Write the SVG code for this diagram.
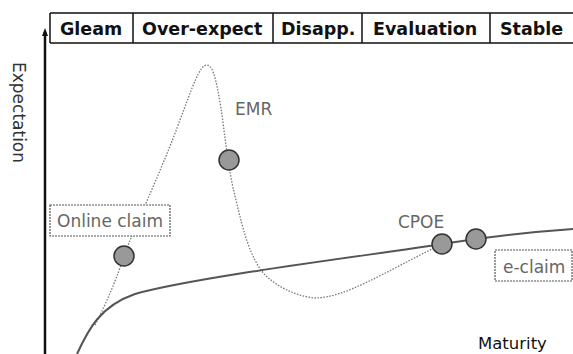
<svg xmlns="http://www.w3.org/2000/svg" width="573" height="354" viewBox="0 0 573 354">
<defs>
<marker id="arr" markerWidth="8" markerHeight="8" refX="4" refY="4" orient="auto" markerUnits="userSpaceOnUse">
<path d="M0,1 L8,4 L0,7 Z" fill="#111"/>
</marker>
<style>
.hdr{font-family:"DejaVu Sans",Verdana,sans-serif;font-weight:bold;font-size:17.5px;fill:#111}
.lbl{font-family:"DejaVu Sans",Verdana,sans-serif;font-size:17px;fill:#666}
.box{fill:#fff;stroke:#555;stroke-width:1.2;stroke-dasharray:2 1}
.dot{fill:#999;stroke:#333;stroke-width:1.5}
</style>
</defs>
<rect width="573" height="354" fill="#fff"/>
<g id="header">
<path d="M50,13 H580 M50,43 H580 M50,13 V43 M133,13 V43 M273,13 V43 M362,13 V43 M490,13 V43" stroke="#111" stroke-width="1.5" fill="none"/>
<text class="hdr" x="60" y="35">Gleam</text>
<text class="hdr" x="142" y="35">Over-expect</text>
<text class="hdr" x="281" y="35">Disapp.</text>
<text class="hdr" x="373" y="35">Evaluation</text>
<text class="hdr" x="500" y="35">Stable</text>
</g>
<g id="axes">
<line x1="45" y1="354" x2="45" y2="32" stroke="#111" stroke-width="2.5" marker-end="url(#arr)"/>
<text x="13" y="62" transform="rotate(90 13 62)" style="font-family:'DejaVu Sans',Verdana,sans-serif;font-size:17px;fill:#333">Expectation</text>
<text x="478" y="349" style="font-family:'DejaVu Sans',Verdana,sans-serif;font-size:16.5px;fill:#111">Maturity</text>
</g>
<g id="connectors">
<path id="hype" d="M95,325 C108,300 118,275 124,256 C135,225 160,175 180,120 C192,88 200,64 207,65 C214,66 217,85 221,108 C225,135 228,170 236,200 C243,230 250,258 265,275 C278,287 295,296 315,298 C345,298 385,272 442,244" fill="none" stroke="#777" stroke-width="1.3" stroke-dasharray="1.5 1.5"/>
<path id="maturity" d="M77,354 C88,330 100,306 135,294 C200,276 380,254 442,244 C480,238 530,232 573,229" fill="none" stroke="#555" stroke-width="2"/>
</g>
<g id="emr">
<text class="lbl" x="235" y="115">EMR</text>
<circle class="dot" cx="229" cy="160" r="10"/>
</g>
<g id="online-claim">
<rect class="box" x="50" y="205" width="120" height="31"/>
<text class="lbl" x="57" y="227">Online claim</text>
<circle class="dot" cx="124" cy="256" r="10"/>
</g>
<g id="cpoe">
<text class="lbl" x="398" y="228">CPOE</text>
<circle class="dot" cx="442" cy="244" r="10"/>
</g>
<g id="e-claim">
<circle class="dot" cx="476" cy="239" r="10"/>
<rect class="box" x="495" y="250" width="77" height="31"/>
<text class="lbl" x="503" y="273">e-claim</text>
</g>
</svg>
